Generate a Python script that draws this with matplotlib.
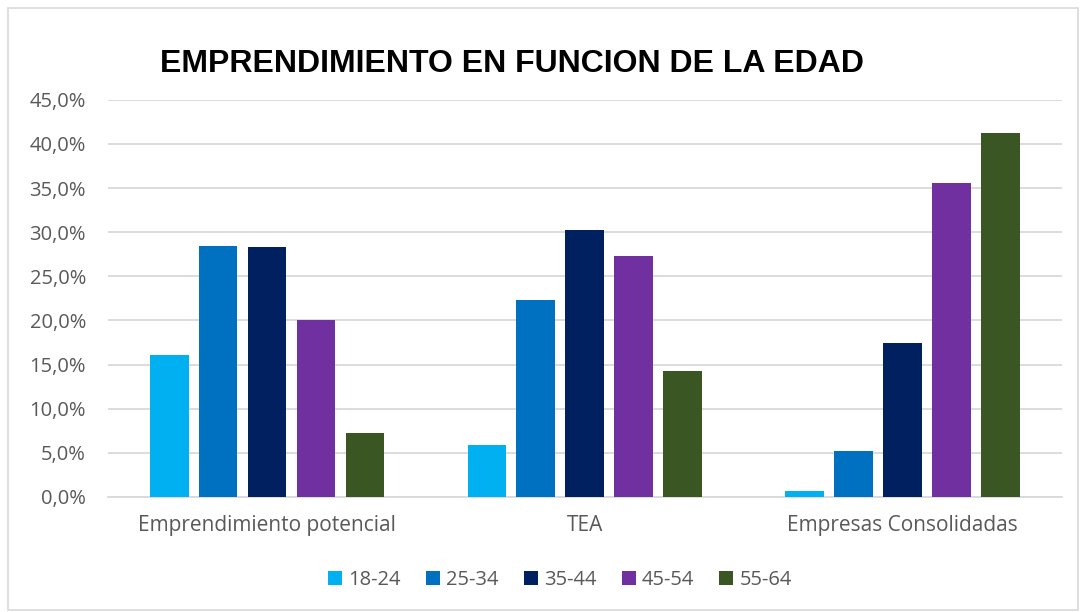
import matplotlib.pyplot as plt
import numpy as np
from matplotlib.patches import Rectangle
from matplotlib.ticker import FuncFormatter

# Data
categories = ["Emprendimiento potencial", "TEA", "Empresas Consolidadas"]
age_groups = ["18-24", "25-34", "35-44", "45-54", "55-64"]
v_18_24 = [16.1, 5.9, 0.7]
v_25_34 = [28.4, 22.3, 5.2]
v_35_44 = [28.3, 30.3, 17.4]
v_45_54 = [20.1, 27.3, 35.6]
v_55_64 = [7.3, 14.3, 41.2]
series = [v_18_24, v_25_34, v_35_44, v_45_54, v_55_64]
colors = ["#00B0F0", "#0070C0", "#002060", "#7030A0", "#3A5723"]

plt.rcParams["font.family"] = ["Open Sans", "DejaVu Sans"]

fig = plt.figure(figsize=[10.81, 6.12], dpi=100)
ax = fig.add_axes([0.1, 0.188, 0.882, 0.649])

# outer frame of the chart
fig.patches.append(Rectangle((0.007, 0.003), 0.99, 0.984, transform=fig.transFigure,
                             fill=False, edgecolor="#d9d9d9", linewidth=1.2))

x = np.arange(len(categories))
width = 0.122
step = 0.154
for i, (vals, col) in enumerate(zip(series, colors)):
    ax.bar(x + (i - 2) * step, vals, width, color=col, label=age_groups[i], zorder=3)

ax.set_xlim(-0.5, 2.5)
ax.set_ylim(0, 45)
ax.set_yticks(np.arange(0, 46, 5))
ax.yaxis.set_major_formatter(FuncFormatter(lambda v, p: f"{v:.1f}".replace(".", ",") + "%"))
ax.set_xticks(x)
ax.set_xticklabels(categories, fontsize=15)
ax.grid(axis="y", color="#d9d9d9", linewidth=1.3, zorder=0)
for s in ["top", "right", "left"]:
    ax.spines[s].set_visible(False)
ax.spines["bottom"].set_color("#d9d9d9")
ax.spines["bottom"].set_linewidth(1.3)
ax.tick_params(axis="both", length=0, labelcolor="#595959")
ax.tick_params(axis="y", pad=16, labelsize=14.5)
ax.tick_params(axis="x", pad=13)

fig.text(0.148, 0.896, "EMPRENDIMIENTO EN FUNCION DE LA EDAD", fontsize=23,
         fontweight="bold", family=["Liberation Sans Narrow", "Liberation Sans"],
         ha="left", va="center", color="black")

leg = fig.legend(loc="center", bbox_to_anchor=(0.518, 0.052), ncol=5, frameon=False,
                 fontsize=14.5, handlelength=0.7, handleheight=0.7, handletextpad=0.3,
                 columnspacing=1.25)
for t in leg.get_texts():
    t.set_color("#595959")

fig.savefig("out.png", dpi=100)
